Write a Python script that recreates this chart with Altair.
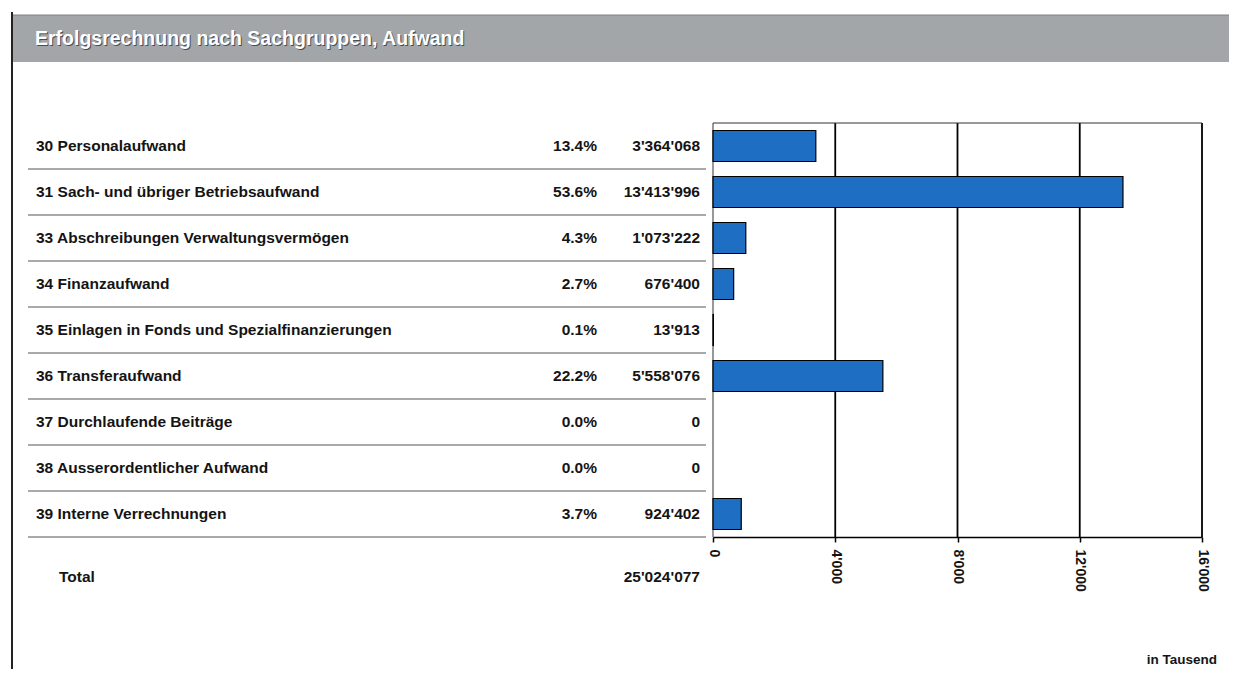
import altair as alt
import pandas as pd

# ---------------- data ----------------
title_text = "Erfolgsrechnung nach Sachgruppen, Aufwand"
categories = [
    "30 Personalaufwand",
    "31 Sach- und übriger Betriebsaufwand",
    "33 Abschreibungen Verwaltungsvermögen",
    "34 Finanzaufwand",
    "35 Einlagen in Fonds und Spezialfinanzierungen",
    "36 Transferaufwand",
    "37 Durchlaufende Beiträge",
    "38 Ausserordentlicher Aufwand",
    "39 Interne Verrechnungen",
]
amounts = [3364068, 13413996, 1073222, 676400, 13913, 5558076, 0, 0, 924402]
percents = ["13.4%", "53.6%", "4.3%", "2.7%", "0.1%", "22.2%", "0.0%", "0.0%", "3.7%"]
x_ticks = [0, 4000, 8000, 12000, 16000]
total_label = "Total"
unit_label = "in Tausend"

FONT = "Liberation Sans"
TXT = "#141414"
BLUE = "#1e6ec3"


def chf(v):
    return f"{v:,}".replace(",", "'")


rows = pd.DataFrame({
    "cat": categories,
    "pct": percents,
    "amt": [chf(v) for v in amounts],
    "k": [v / 1000 for v in amounts],
})
total_df = pd.DataFrame({"label": [total_label], "amt": [chf(sum(amounts))]})
grid_df = pd.DataFrame({"k": x_ticks[1:]})
one = pd.DataFrame({"a": [0]})

y_scale = alt.Scale(domain=categories, range=[115, 529],
                    paddingInner=0, paddingOuter=0)
y_enc = alt.Y("cat:N", sort=categories, scale=y_scale, axis=None)

x_axis = alt.Axis(values=x_ticks, labelAngle=90, labelAlign="left",
                  labelBaseline="middle", labelPadding=7, tickSize=5,
                  tickColor="black", tickWidth=1.5, domainColor="black",
                  domainWidth=1.5, labelColor=TXT, labelFont=FONT,
                  labelFontSize=14, labelFontWeight="bold", grid=False,
                  title=None, labelOverlap=False, labelFlush=False,
                  labelExpr="replace(format(datum.value, ','), ',', \"'\")")
x_scale = alt.Scale(domain=[0, 16000], range=[705, 1194], nice=False)


def xk():
    return alt.X("k:Q", scale=x_scale, axis=x_axis)


# ---------------- decorations ----------------
header = alt.Chart(one).mark_rect(color="#a2a6a9").encode(
    x=alt.value(4), x2=alt.value(1221), y=alt.value(7), y2=alt.value(54))
header_line = alt.Chart(one).mark_rule(color="#7d8184", strokeWidth=1).encode(
    x=alt.value(4), x2=alt.value(1221), y=alt.value(7))
left_line = alt.Chart(one).mark_rule(color="#222", strokeWidth=2).encode(
    x=alt.value(4), y=alt.value(4), y2=alt.value(661))
title_shadow = alt.Chart(one).mark_text(
    align="left", baseline="middle", font=FONT, fontSize=19.5,
    fontWeight="bold", color="#4a4d50").encode(
    x=alt.value(28), y=alt.value(32), text=alt.value(title_text))
title = alt.Chart(one).mark_text(
    align="left", baseline="middle", font=FONT, fontSize=19.5,
    fontWeight="bold", color="white").encode(
    x=alt.value(27), y=alt.value(31), text=alt.value(title_text))

# ---------------- table ----------------
separators = alt.Chart(rows).mark_rule(color="#555", strokeWidth=1).encode(
    x=alt.value(20), x2=alt.value(698),
    y=alt.Y("cat:N", sort=categories, bandPosition=1,
            scale=y_scale, axis=None))

txt_kw = dict(baseline="middle", font=FONT, fontSize=15.5,
              fontWeight="bold", color=TXT)
labels = alt.Chart(rows).mark_text(align="left", **txt_kw).encode(
    x=alt.value(28), y=y_enc, text="cat:N")
pcts = alt.Chart(rows).mark_text(align="right", **txt_kw).encode(
    x=alt.value(589), y=y_enc, text="pct:N")
amts = alt.Chart(rows).mark_text(align="right", **txt_kw).encode(
    x=alt.value(692), y=y_enc, text="amt:N")

total_lbl = alt.Chart(total_df).mark_text(align="left", **txt_kw).encode(
    x=alt.value(51), y=alt.value(569), text="label:N")
total_amt = alt.Chart(total_df).mark_text(align="right", **txt_kw).encode(
    x=alt.value(692), y=alt.value(569), text="amt:N")

unit = alt.Chart(one).mark_text(
    align="right", baseline="middle", font=FONT, fontSize=13.5,
    fontWeight="bold", color=TXT).encode(
    x=alt.value(1209), y=alt.value(652), text=alt.value(unit_label))

# ---------------- bar chart ----------------
grid = alt.Chart(grid_df).mark_rule(color="black", strokeWidth=1.8).encode(
    x=xk(), y=alt.value(115), y2=alt.value(529))
frame_top = alt.Chart(one).mark_rule(color="#333", strokeWidth=1).encode(
    x=alt.datum(0, scale=x_scale, axis=x_axis), x2=alt.datum(16000),
    y=alt.value(115))
frame_left = alt.Chart(one).mark_rule(color="#333", strokeWidth=1).encode(
    x=alt.datum(0, scale=x_scale, axis=x_axis), y=alt.value(115),
    y2=alt.value(529))

bars = alt.Chart(rows).mark_bar(size=31, color=BLUE, stroke="black",
                                strokeWidth=1.2).encode(
    x=xk(), y=y_enc).transform_filter("datum.k > 0")

chart = alt.layer(
    header, header_line, left_line, title_shadow, title,
    separators, labels, pcts, amts, total_lbl, total_amt, unit,
    grid, frame_top, frame_left, bars,
).properties(
    width=1221, height=529,
    autosize=alt.AutoSizeParams(type="none"),
    padding={"left": 0, "top": 0, "right": 0, "bottom": 132},
    background="white",
).configure_view(strokeWidth=0)

chart.save("out.html", embed_options={"renderer": "svg", "actions": False})
